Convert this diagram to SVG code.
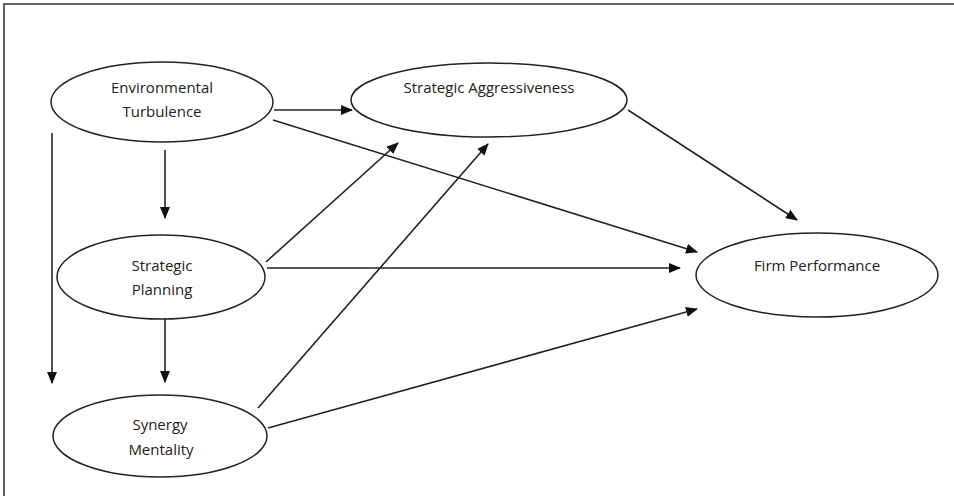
<svg xmlns="http://www.w3.org/2000/svg" width="954" height="496" viewBox="0 0 954 496">
<style>
.n ellipse{fill:#fff;stroke:#222;stroke-width:1.5}
.n text{font-family:"Open Sans","Liberation Sans",sans-serif;font-size:15px;fill:#222;text-anchor:middle}
.c line{stroke:#222;stroke-width:1.6;marker-end:url(#ah)}
.frame{stroke:#333;stroke-width:1.5;fill:none}
</style>
<defs>
<marker id="ah" viewBox="0 0 12 10" refX="11" refY="5" markerWidth="12" markerHeight="10" markerUnits="userSpaceOnUse" orient="auto">
<path d="M0,0 L12,5 L0,10 Z" fill="#111"/>
</marker>
</defs>
<rect width="954" height="496" fill="#fff"/>
<path class="frame" d="M4,496 V4 H954"/>
<g class="c" id="connectors">
<line x1="274" y1="110" x2="352" y2="110"/>
<line x1="273" y1="120" x2="697" y2="252"/>
<line x1="165" y1="150" x2="165" y2="218"/>
<line x1="52" y1="133" x2="52" y2="383"/>
<line x1="165" y1="319" x2="165" y2="382"/>
<line x1="266" y1="262" x2="398" y2="143"/>
<line x1="267" y1="268" x2="680" y2="268"/>
<line x1="258" y1="408" x2="488" y2="144"/>
<line x1="268" y1="428" x2="697" y2="309"/>
<line x1="628" y1="110" x2="797" y2="220"/>
</g>
<g class="n" id="env">
<ellipse cx="162" cy="102" rx="111" ry="40"/>
<text x="162" y="93">Environmental</text>
<text x="162" y="117">Turbulence</text>
</g>
<g class="n" id="aggr">
<ellipse cx="489" cy="100" rx="138" ry="37"/>
<text x="489" y="93">Strategic Aggressiveness</text>
</g>
<g class="n" id="plan">
<ellipse cx="161" cy="277" rx="104" ry="42"/>
<text x="162" y="271">Strategic</text>
<text x="162" y="295">Planning</text>
</g>
<g class="n" id="syn">
<ellipse cx="160" cy="436" rx="107" ry="41"/>
<text x="160" y="430">Synergy</text>
<text x="161" y="455">Mentality</text>
</g>
<g class="n" id="firm">
<ellipse cx="817" cy="275" rx="121" ry="42"/>
<text x="817" y="271">Firm Performance</text>
</g>
</svg>
